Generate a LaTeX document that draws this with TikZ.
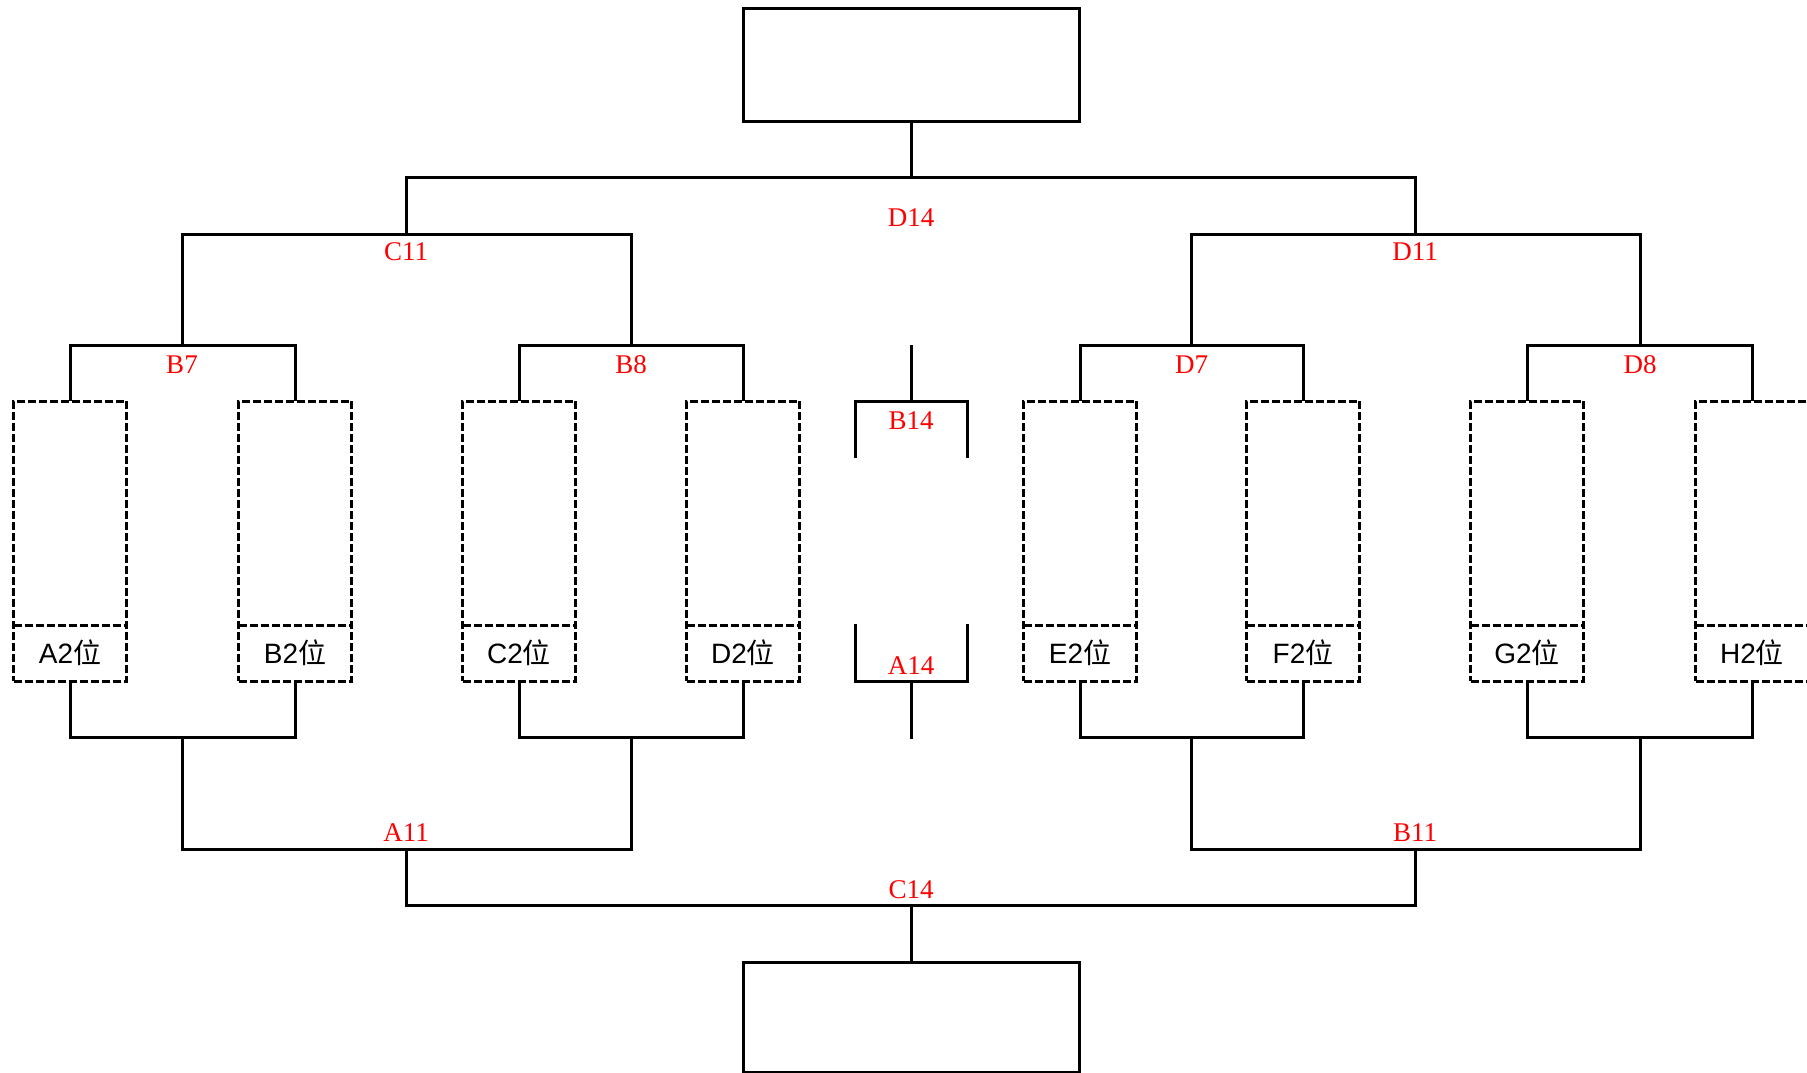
\documentclass[tikz,border=0pt]{standalone}
\usepackage{fontspec}
\setmainfont{Liberation Serif}
\setsansfont{Liberation Sans}
\newfontfamily\cjk{Noto Sans CJK SC}
\usetikzlibrary{positioning}

\tikzset{
  mainbox/.style={draw, line width=3pt, minimum width=336pt, inner sep=0pt, outer sep=0pt},
  dashline/.style={line width=3pt, dash pattern=on 8pt off 3pt},
  slotbox/.style={draw, dashline, minimum width=113pt, minimum height=280pt, inner sep=0pt, outer sep=0pt},
  posbox/.style={minimum width=113pt, minimum height=56pt, inner sep=0pt, outer sep=0pt, font=\sffamily\fontsize{28}{32}\selectfont},
  redlabel/.style={text=red, inner sep=0pt, font=\fontsize{27}{31}\selectfont},
}

\begin{document}
\begin{tikzpicture}[x=1pt, y=-1pt, line width=3pt]
  \useasboundingbox (0,0) rectangle (1807,1073);
  \node[mainbox, minimum height=112pt] (top) at (911,65) {};
  \node[mainbox, minimum height=110pt] (bottom) at (911,1017) {};
  \foreach \n/\x in {A/70,B/295,C/519,D/743,E/1080,F/1303,G/1527,H/1752} {
    \node[slotbox] (\n-slot) at (\x,541) {};
    \node[posbox, anchor=south] (\n-pos) at (\n-slot.south) {\n2{\cjk 位}};
    \draw[dashline] (\n-pos.north west) -- (\n-pos.north east);
  }

  \coordinate (B7) at (182,345);
  \coordinate (B8) at (631,345);
  \coordinate (D7) at (1191.5,345);
  \coordinate (D8) at (1640,345);
  \coordinate (C11) at (406,234);
  \coordinate (D11) at (1415,234);
  \coordinate (D14) at (911,177);
  \draw (A-slot.north) |- (B7) -| (B-slot.north);
  \draw (C-slot.north) |- (B8) -| (D-slot.north);
  \draw (E-slot.north) |- (D7) -| (F-slot.north);
  \draw (G-slot.north) |- (D8) -| (H-slot.north);
  \draw (B7) |- (C11) -| (B8);
  \draw (D7) |- (D11) -| (D8);
  \draw (C11) |- (D14) -| (D11);
  \draw (D14) -- (top.south);

  \coordinate (ab) at (182,737);
  \coordinate (cd) at (631,737);
  \coordinate (ef) at (1191.5,737);
  \coordinate (gh) at (1640,737);
  \coordinate (A11) at (406,849);
  \coordinate (B11) at (1415,849);
  \coordinate (C14) at (911,905);
  \draw (A-pos.south) |- (ab) -| (B-pos.south);
  \draw (C-pos.south) |- (cd) -| (D-pos.south);
  \draw (E-pos.south) |- (ef) -| (F-pos.south);
  \draw (G-pos.south) |- (gh) -| (H-pos.south);
  \draw (ab) |- (A11) -| (cd);
  \draw (ef) |- (B11) -| (gh);
  \draw (A11) |- (C14) -| (B11);
  \draw (C14) -- (bottom.north);

  % middle column
  \coordinate (B14-in) at (911,345);
  \coordinate (B14) at (911,401);
  \coordinate (B14-l) at (855,458);
  \coordinate (B14-r) at (967,458);
  \coordinate (A14-l) at (855,624);
  \coordinate (A14-r) at (967,624);
  \coordinate (A14) at (911,681);
  \coordinate (A14-out) at (911,739);
  \draw (B14-in) -- (B14);
  \draw (B14-l) |- (B14) -| (B14-r);
  \draw (A14-l) |- (A14) -| (A14-r);
  \draw (A14) -- (A14-out);

  \node[redlabel] (B7-text) at (182,365) {B7};
  \node[redlabel] (B8-text) at (631,365) {B8};
  \node[redlabel] (D7-text) at (1191.5,365) {D7};
  \node[redlabel] (D8-text) at (1640,365) {D8};
  \node[redlabel] (C11-text) at (406,252) {C11};
  \node[redlabel] (D11-text) at (1415,252) {D11};
  \node[redlabel] (D14-text) at (911,218) {D14};
  \node[redlabel] (B14-text) at (911,421) {B14};
  \node[redlabel] (A14-text) at (911,666) {A14};
  \node[redlabel] (A11-text) at (406,833) {A11};
  \node[redlabel] (B11-text) at (1415,833) {B11};
  \node[redlabel] (C14-text) at (911,890) {C14};
\end{tikzpicture}
\end{document}
